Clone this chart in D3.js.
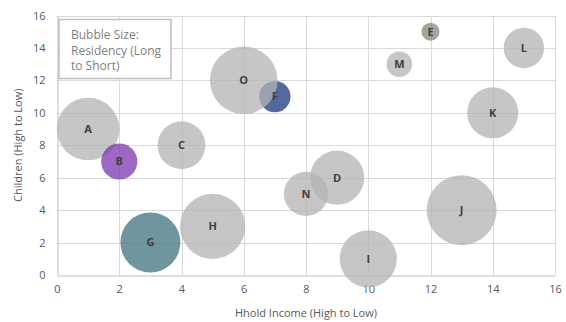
<!DOCTYPE html>
<html>
<head>
<meta charset="utf-8">
<script src="https://cdn.jsdelivr.net/npm/d3@7"></script>
<style>
  body { margin: 0; background: #fff; }
  text { font-family: "Open Sans", "Liberation Sans", sans-serif; }
</style>
</head>
<body>
<script>
// chart data
var labels = ["A","B","C","D","E","F","G","H","I","J","K","L","M","N","O"];
var income = [1, 2, 4, 9, 12, 7, 3, 5, 10, 13, 14, 15, 11, 8, 6];      // x
var children = [9, 7, 8, 6, 15, 11, 2, 3, 1, 4, 10, 14, 13, 5, 12];   // y
var residency = [12, 4, 7, 9, 1, 3, 11, 13, 10, 15, 8, 5, 2, 6, 14]; // bubble size
var xTicks = [0, 2, 4, 6, 8, 10, 12, 14, 16];
var yTicks = [0, 2, 4, 6, 8, 10, 12, 14, 16];

var w = 566, h = 322;
var margin = {left: 57, right: 11, top: 15.5, bottom: 47};

// special colours, everything else is grey
var colours = {B: "#7a36b0", E: "#87877a", F: "#1a377e", G: "#3f717d"};
var grey = "#b3b3b3";

var svg = d3.select("body").append("svg")
  .attr("width", w)
  .attr("height", h);

var x = d3.scaleLinear().domain([0, 16]).range([margin.left, w - margin.right]);
var y = d3.scaleLinear().domain([0, 16]).range([h - margin.bottom, margin.top]);
var r = d3.scaleSqrt().domain([0, 15]).range([0, 35]);

// gridlines
svg.append("g")
  .selectAll("line.vg")
  .data(xTicks.slice(1))
  .enter().append("line")
  .attr("x1", function(d) { return Math.round(x(d)) + 0.5; })
  .attr("x2", function(d) { return Math.round(x(d)) + 0.5; })
  .attr("y1", y(16)).attr("y2", y(0))
  .attr("stroke", "#d9d9d9");

svg.append("g")
  .selectAll("line.hg")
  .data(yTicks.slice(1))
  .enter().append("line")
  .attr("y1", function(d) { return Math.round(y(d)) + 0.5; })
  .attr("y2", function(d) { return Math.round(y(d)) + 0.5; })
  .attr("x1", x(0)).attr("x2", x(16))
  .attr("stroke", "#d9d9d9");

// axes
var xAxis = d3.axisBottom(x).tickValues(xTicks).tickSize(0).tickPadding(10);
var yAxis = d3.axisLeft(y).tickValues(yTicks).tickSize(0).tickPadding(12);

var gx = svg.append("g")
  .attr("transform", "translate(0," + (Math.round(y(0)) + 0.5) + ")")
  .call(xAxis);
var gy = svg.append("g")
  .attr("transform", "translate(" + (Math.round(x(0)) + 0.5) + ",0)")
  .call(yAxis);

[gx, gy].forEach(function(g) {
  g.select(".domain").attr("stroke", "#bfbfbf");
  g.selectAll("text").attr("fill", "#595959").style("font-size", "11px");
});

// bubbles
var dataset = labels.map(function(l, i) { return [l, income[i], children[i], residency[i]]; });

svg.append("g")
  .selectAll("circle")
  .data(dataset)
  .enter()
  .append("circle")
  .attr("cx", function(d) { return x(d[1]); })
  .attr("cy", function(d) { return y(d[2]); })
  .attr("r", function(d) { return r(d[3]); })
  .attr("fill", function(d) { return colours[d[0]] || grey; })
  .attr("fill-opacity", 0.75);

svg.append("g")
  .selectAll("text")
  .data(dataset)
  .enter()
  .append("text")
  .attr("x", function(d) { return x(d[1]); })
  .attr("y", function(d) { return y(d[2]); })
  .attr("dy", "0.35em")
  .attr("text-anchor", "middle")
  .attr("fill", "#404040")
  .style("font-size", "11px")
  .style("font-weight", "bold")
  .text(function(d) { return d[0]; });

// axis titles
svg.append("text")
  .attr("x", (x(0) + x(16)) / 2)
  .attr("y", 317)
  .attr("text-anchor", "middle")
  .attr("fill", "#595959")
  .style("font-size", "11px")
  .text("Hhold Income (High to Low)");

svg.append("text")
  .attr("transform", "translate(22," + ((y(0) + y(16)) / 2) + ") rotate(-90)")
  .attr("text-anchor", "middle")
  .attr("fill", "#595959")
  .style("font-size", "11px")
  .text("Children (High to Low)");

// note box
var note = svg.append("g");
note.append("rect")
  .attr("x", 59).attr("y", 19.5)
  .attr("width", 112).attr("height", 59)
  .attr("fill", "#fff")
  .attr("stroke", "#bfbfbf")
  .attr("stroke-width", 1.5);

["Bubble Size:", "Residency (Long", "to Short)"].forEach(function(t, i) {
  note.append("text")
    .attr("x", 71)
    .attr("y", 39 + i * 15.5)
    .attr("fill", "#808080")
    .style("font-size", "12px")
    .text(t);
});
</script>
</body>
</html>
